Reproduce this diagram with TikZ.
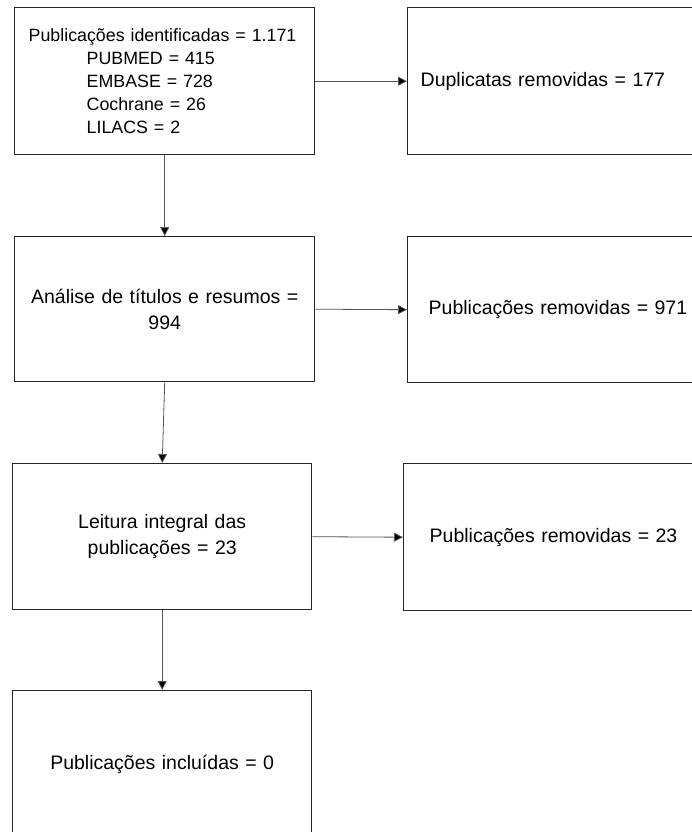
\documentclass[tikz,border=0pt]{standalone}
\usepackage{fontspec}
\setmainfont{Liberation Sans}
\usetikzlibrary{arrows.meta}
\definecolor{edge}{HTML}{262626}
\definecolor{conn}{HTML}{555555}
\begin{document}
\begin{tikzpicture}[x=1pt,y=-1pt,
  box/.style={draw=edge, line width=1.4pt, rectangle, anchor=north west, inner ysep=0pt,
    font=\fontsize{19.5}{26.5}\selectfont, text=black},
  conn/.style={draw=conn, line width=0.8pt, -{Triangle[length=9pt,width=9pt,fill=black]}}]
\useasboundingbox (0,0) rectangle (692,832);
\clip (0,0) rectangle (692,832);
\fill[white] (0,0) rectangle (692,832);
\node[box, font=\fontsize{17.8}{23.2}\selectfont, minimum width=300pt, minimum height=147pt, inner xsep=14pt, text width=272pt, align=left] (b1) at (14,7)
  {Publicações identificadas = 1.171\\
   \hspace*{58pt}PUBMED = 415\\
   \hspace*{58pt}EMBASE = 728\\
   \hspace*{58pt}Cochrane = 26\\
   \hspace*{58pt}LILACS = 2};
\node[box, minimum width=303pt, minimum height=147pt, inner xsep=13pt, text width=277pt, align=left] (b2) at (407,7)
  {Duplicatas removidas = 177};
\node[box, minimum width=300pt, minimum height=145pt, inner xsep=5pt, text width=290pt, align=center] (b3) at (14,236)
  {Análise de títulos e resumos =\\994};
\node[box, minimum width=303pt, minimum height=146pt, inner xsep=21pt, text width=261pt, align=left] (b4) at (407,236)
  {Publicações removidas = 971};
\node[box, minimum width=299pt, minimum height=146pt, inner xsep=5pt, text width=289pt, align=center] (b5) at (12,463)
  {Leitura integral das\\publicações = 23};
\node[box, minimum width=307pt, minimum height=147pt, inner xsep=26pt, text width=255pt, align=left] (b6) at (403,463)
  {Publicações removidas = 23};
\node[box, minimum width=299pt, minimum height=148pt, inner xsep=5pt, text width=289pt, align=center] (b7) at (12,690)
  {Publicações incluídas = 0};
\draw[conn] (b1.south) -- (b3.north);
\draw[conn] (b3.south) -- (b5.north);
\draw[conn] (b5.south) -- (b7.north);
\draw[conn] (b1.east) -- (b2.west);
\draw[conn] (b3.east) -- (b4.west);
\draw[conn] (b5.east) -- (b6.west);
\end{tikzpicture}
\end{document}
